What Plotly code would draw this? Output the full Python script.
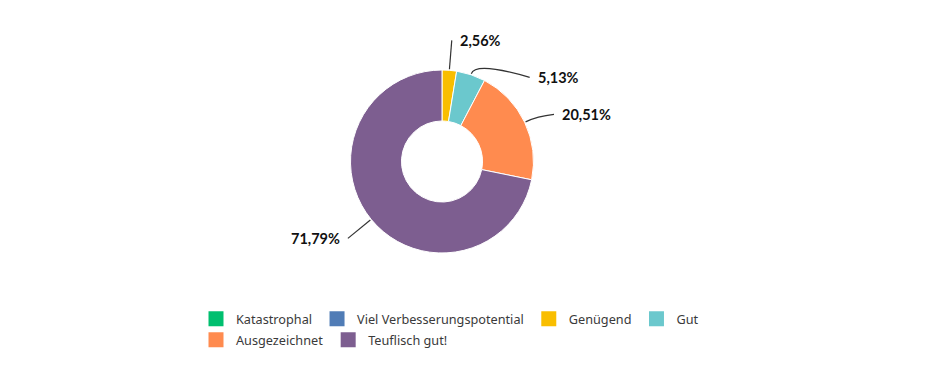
import math
import plotly.graph_objects as go

categories = ["Katastrophal", "Viel Verbesserungspotential", "Genügend", "Gut",
              "Ausgezeichnet", "Teuflisch gut!"]
percentages = [0.0, 0.0, 2.56, 5.13, 20.51, 71.79]
colors = ["#00BF6F", "#507CB6", "#F9BE00", "#6BC8CD", "#FF8B4F", "#7D5E90"]
legend_rows = [4, 2]  # entries per legend row

W, H = 950, 386
ML, MR, MT, MB = 188, 200, 0, 0
PW, PH = W - ML - MR, H - MT - MB

CX, CY, R = 434, 153.5, 91.5
HOLE = 0.443


def px(x):
    return (x - ML) / PW


def py(y):
    return 1 - (y - MT) / PH


fig = go.Figure()

# legend entries (marker-only traces without points)
start = 0
for r, n in enumerate(legend_rows):
    for lab, col in zip(categories[start:start + n], colors[start:start + n]):
        fig.add_trace(go.Scatter(
            x=[None], y=[None], mode="markers", name=lab,
            marker=dict(symbol="square", size=15, color=col),
            hoverinfo="skip",
            legend="legend" if r == 0 else f"legend{r + 1}",
        ))
    start += n

fig.add_trace(go.Pie(
    labels=categories,
    values=percentages,
    marker=dict(colors=colors, line=dict(color="white", width=1)),
    hole=HOLE,
    sort=False,
    direction="clockwise",
    rotation=0,
    textinfo="none",
    hoverinfo="label+percent",
    showlegend=False,
    domain=dict(x=[px(CX - R), px(CX + R)], y=[py(CY + R), py(CY - R)]),
))

# label placement (outside labels with connectors)
total = sum(percentages)
cum = 0.0
items = []
for cat, v in zip(categories, percentages):
    if v > 0:
        mid = (cum + v / 2) / total * 2 * math.pi
        items.append(dict(v=v, a=mid))
    cum += v

LR = R + 30
GAP = 37
for it in items:
    it["side"] = 1 if math.sin(it["a"]) >= 0 else -1
    it["y"] = CY - LR * math.cos(it["a"])

for side in (1, -1):
    grp = sorted([i for i in items if i["side"] == side], key=lambda i: i["y"])
    for k in range(1, len(grp)):
        if grp[k]["y"] < grp[k - 1]["y"] + GAP:
            grp[k]["y"] = grp[k - 1]["y"] + GAP

shapes = []
annotations = []
for it in items:
    a, side = it["a"], it["side"]
    dy = it["y"] - CY
    dx = math.sqrt(max(LR ** 2 - dy ** 2, 0))
    ex, ey = CX + side * dx, it["y"]
    x0, y0 = CX + (R + 1) * math.sin(a), CY - (R + 1) * math.cos(a)
    x1, y1 = CX + (R + 14) * math.sin(a), CY - (R + 14) * math.cos(a)
    path = f"M {px(x0)},{py(y0)} Q {px(x1)},{py(y1)} {px(ex)},{py(ey)}"
    shapes.append(dict(type="path", xref="paper", yref="paper", path=path,
                       line=dict(color="#333333", width=1.2)))
    txt = f"{it['v']:.2f}".replace(".", ",") + "%"
    annotations.append(dict(
        x=px(ex + side * 6), y=py(ey), xref="paper", yref="paper",
        text=f"<b>{txt}</b>", showarrow=False,
        xanchor="left" if side > 0 else "right", yanchor="middle",
        font=dict(family="Lato, Noto Sans, sans-serif", size=14.5, color="#111111"),
    ))

legend_style = dict(
    orientation="h", x=0, xanchor="left", yanchor="top",
    font=dict(family="Noto Sans, sans-serif", size=12.7, color="#3a3a3a"),
    traceorder="normal", itemclick=False, itemdoubleclick=False,
    bgcolor="rgba(0,0,0,0)",
)

fig.update_layout(
    width=W, height=H,
    margin=dict(l=ML, r=MR, t=MT, b=MB),
    paper_bgcolor="white", plot_bgcolor="white",
    xaxis=dict(visible=False), yaxis=dict(visible=False),
    shapes=shapes, annotations=annotations,
    showlegend=True,
    legend=dict(legend_style, y=py(296)),
    legend2=dict(legend_style, y=py(317)),
)

fig.write_html("out.html")
